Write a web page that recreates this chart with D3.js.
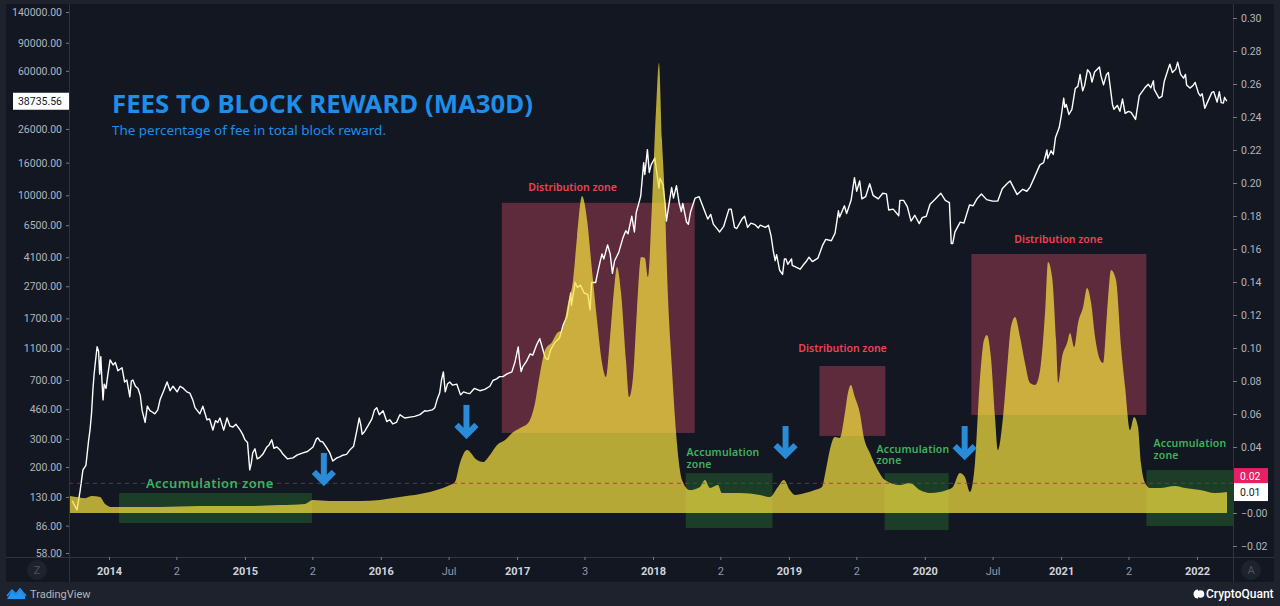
<!DOCTYPE html>
<html><head><meta charset="utf-8">
<script src="https://cdn.jsdelivr.net/npm/d3@7"></script>
<style>html,body{margin:0;padding:0;background:#1e222d;}svg{display:block}</style>
</head><body>
<svg id="c" width="1280" height="606"></svg>
<script>
// ---------------- DATA ----------------
const priceData = [
["2013-09-24",123],["2013-10-07",108],["2013-10-15",140],["2013-10-23",192],["2013-10-31",205],["2013-11-07",290],["2013-11-11",340],["2013-11-15",430],["2013-11-19",620],["2013-11-22",760],["2013-11-26",930],["2013-11-30",1130],["2013-12-04",1060],["2013-12-07",760],["2013-12-10",980],["2013-12-13",700],["2013-12-16",526],["2013-12-19",660],["2013-12-24",620],["2013-12-29",760],
["2014-01-04",935],["2014-01-12",870],["2014-01-18",900],["2014-01-25",800],["2014-02-05",835],["2014-02-12",680],["2014-02-18",700],["2014-02-26",550],["2014-03-02",690],["2014-03-06",700],["2014-03-13",640],["2014-03-20",620],["2014-03-26",560],["2014-03-31",450],["2014-04-08",380],["2014-04-14",480],["2014-04-21",450],["2014-04-28",440],["2014-05-04",430],["2014-05-12",455],["2014-05-18",526],["2014-05-28",600],["2014-06-06",680],["2014-06-14",600],["2014-06-22",640],["2014-07-03",590],["2014-07-11",640],["2014-07-20",620],["2014-07-29",590],["2014-08-06",580],["2014-08-14",526],["2014-08-20",470],["2014-09-02",430],["2014-09-10",480],["2014-09-21",395],["2014-09-28",400],["2014-10-07",341],["2014-10-14",390],["2014-10-20",380],["2014-10-26",405],["2014-11-05",340],["2014-11-14",405],["2014-11-22",360],["2014-11-30",356],["2014-12-08",370],["2014-12-19",341],["2014-12-26",320],
["2015-01-01",296],["2015-01-08",285],["2015-01-14",192],["2015-01-18",210],["2015-01-22",245],["2015-01-28",260],["2015-02-03",225],["2015-02-10",230],["2015-02-18",240],["2015-03-01",267],["2015-03-07",275],["2015-03-14",296],["2015-03-20",262],["2015-03-28",267],["2015-04-06",255],["2015-04-13",241],["2015-04-25",225],["2015-05-10",228],["2015-05-22",238],["2015-06-06",245],["2015-06-18",250],["2015-07-03",267],["2015-07-12",300],["2015-07-16",304],["2015-07-22",290],["2015-07-29",287],["2015-08-08",265],["2015-08-17",245],["2015-08-25",218],["2015-09-05",228],["2015-09-14",232],["2015-09-21",237],["2015-10-01",240],["2015-10-10",256],["2015-10-20",270],["2015-10-29",341],["2015-11-04",405],["2015-11-08",370],["2015-11-12",320],["2015-11-19",335],["2015-11-27",360],["2015-12-08",400],["2015-12-15",455],["2015-12-21",469],["2015-12-28",425],
["2016-01-07",450],["2016-01-17",385],["2016-01-25",395],["2016-02-02",372],["2016-02-12",380],["2016-02-21",425],["2016-03-05",405],["2016-03-19",410],["2016-04-01",415],["2016-04-15",425],["2016-04-28",450],["2016-05-04",447],["2016-05-18",455],["2016-05-25",470],["2016-06-01",535],["2016-06-07",580],["2016-06-12",700],["2016-06-17",787],["2016-06-22",590],["2016-06-28",660],["2016-07-04",680],["2016-07-12",650],["2016-07-23",660],["2016-08-02",565],["2016-08-10",590],["2016-08-20",580],["2016-08-27",575],["2016-09-08",620],["2016-09-23",600],["2016-10-06",612],["2016-10-20",640],["2016-10-28",695],["2016-11-07",712],["2016-11-15",735],["2016-11-24",735],["2016-12-05",765],["2016-12-18",787],["2016-12-26",900],
["2017-01-04",1127],["2017-01-08",910],["2017-01-12",790],["2017-01-16",845],["2017-01-26",915],["2017-02-05",1020],["2017-02-12",1000],["2017-02-23",1170],["2017-03-03",1270],["2017-03-10",1110],["2017-03-18",960],["2017-03-25",940],["2017-04-01",1080],["2017-04-12",1200],["2017-04-25",1280],["2017-05-05",1550],["2017-05-15",1750],["2017-05-25",2450],["2017-05-27",2050],["2017-06-06",2850],["2017-06-12",2650],["2017-06-20",2750],["2017-06-30",2450],["2017-07-10",2400],["2017-07-16",1920],["2017-07-20",2850],["2017-07-31",2850],["2017-08-05",3250],["2017-08-12",3850],["2017-08-17",4300],["2017-08-22",4000],["2017-09-01",4900],["2017-09-08",4300],["2017-09-14",3250],["2017-09-20",3900],["2017-10-01",4400],["2017-10-12",5400],["2017-10-20",6000],["2017-10-26",5750],["2017-11-05",7400],["2017-11-12",5900],["2017-11-17",7800],["2017-11-26",9300],["2017-11-29",9900],["2017-12-07",16000],["2017-12-10",13500],["2017-12-17",19300],["2017-12-22",13900],["2017-12-27",15500],
["2018-01-06",17100],["2018-01-10",14500],["2018-01-17",11100],["2018-01-20",12800],["2018-01-28",11600],["2018-02-02",9000],["2018-02-06",6900],["2018-02-12",8500],["2018-02-20",11200],["2018-02-25",9600],["2018-03-05",11500],["2018-03-12",9000],["2018-03-18",7900],["2018-03-22",8900],["2018-04-01",6800],["2018-04-06",6600],["2018-04-12",7900],["2018-04-24",9600],["2018-05-05",9800],["2018-05-15",8500],["2018-05-28",7100],["2018-06-05",7600],["2018-06-12",6600],["2018-06-24",6100],["2018-06-29",5900],["2018-07-10",6400],["2018-07-24",8200],["2018-07-30",8200],["2018-08-08",6300],["2018-08-14",6200],["2018-08-28",7100],["2018-09-04",7400],["2018-09-12",6300],["2018-09-21",6700],["2018-10-02",6550],["2018-10-11",6250],["2018-10-16",6500],["2018-10-30",6300],["2018-11-07",6500],["2018-11-14",5600],["2018-11-20",4500],["2018-11-25",3900],["2018-11-29",4250],["2018-12-07",3400],["2018-12-15",3200],["2018-12-20",4000],["2018-12-24",4000],["2018-12-29",3700],
["2019-01-08",4000],["2019-01-10",3650],["2019-01-20",3550],["2019-01-31",3450],["2019-02-08",3650],["2019-02-18",3900],["2019-02-24",4100],["2019-03-05",3850],["2019-03-20",4050],["2019-04-02",4900],["2019-04-10",5300],["2019-04-25",5200],["2019-05-05",5800],["2019-05-14",8000],["2019-05-17",7300],["2019-05-30",8600],["2019-06-05",7700],["2019-06-17",9300],["2019-06-26",12900],["2019-07-02",10600],["2019-07-10",12300],["2019-07-16",9500],["2019-07-26",9800],["2019-08-06",11800],["2019-08-15",10000],["2019-08-29",9500],["2019-09-10",10300],["2019-09-20",10200],["2019-09-26",8100],["2019-10-08",8200],["2019-10-23",7450],["2019-10-26",9300],["2019-11-05",9300],["2019-11-15",8500],["2019-11-25",6900],["2019-12-05",7500],["2019-12-17",6650],["2019-12-25",7250],
["2020-01-05",7400],["2020-01-15",8800],["2020-01-28",9400],["2020-02-13",10300],["2020-02-25",9300],["2020-03-07",9000],["2020-03-12",5000],["2020-03-16",5000],["2020-03-22",5900],["2020-04-05",6800],["2020-04-15",6700],["2020-04-30",8700],["2020-05-10",8600],["2020-05-20",9500],["2020-06-01",10200],["2020-06-15",9400],["2020-07-01",9200],["2020-07-15",9200],["2020-07-27",11000],["2020-08-10",11900],["2020-08-17",12300],["2020-09-05",10100],["2020-09-20",10900],["2020-10-01",10600],["2020-10-10",11300],["2020-10-21",12900],["2020-11-05",15500],["2020-11-15",16000],["2020-11-24",19200],["2020-11-26",17000],["2020-12-05",19000],["2020-12-11",18000],["2020-12-17",23000],["2020-12-27",26500],
["2021-01-02",32000],["2021-01-08",40500],["2021-01-11",35500],["2021-01-15",37000],["2021-01-22",32000],["2021-01-30",34500],["2021-02-08",46500],["2021-02-15",48000],["2021-02-21",57000],["2021-02-28",45000],["2021-03-05",48500],["2021-03-13",61000],["2021-03-20",58000],["2021-03-25",51000],["2021-04-01",59000],["2021-04-14",63500],["2021-04-18",56000],["2021-04-25",49000],["2021-05-03",57000],["2021-05-08",58500],["2021-05-12",49500],["2021-05-19",37000],["2021-05-23",34500],["2021-06-01",36500],["2021-06-08",33500],["2021-06-15",40000],["2021-06-22",32500],["2021-07-01",33500],["2021-07-08",33000],["2021-07-20",29800],["2021-07-30",42000],["2021-08-14",47000],["2021-08-23",49500],["2021-08-30",47000],["2021-09-06",52000],["2021-09-08",46000],["2021-09-21",40500],["2021-09-29",41500],["2021-10-05",51500],["2021-10-15",61000],["2021-10-20",66000],["2021-10-27",58500],["2021-11-05",61500],["2021-11-10",68000],["2021-11-18",57000],["2021-11-26",54000],["2021-12-01",57000],["2021-12-04",49000],["2021-12-13",46800],["2021-12-22",48800],["2021-12-27",50800],
["2022-01-05",43500],["2022-01-10",41800],["2022-01-15",43100],["2022-01-22",35000],["2022-01-28",37700],["2022-02-10",44000],["2022-02-15",44500],["2022-02-24",38300],["2022-03-02",44400],["2022-03-07",38000],["2022-03-13",37800],["2022-03-16",41000],["2022-03-22",38735.56]
];
const lastPrice = 38735.56;

// fee to block reward (MA30D): [decimal year, ratio]
const feeData = [
[2013.713,0.0103],[2013.757,0.0097],[2013.824,0.0090],[2013.875,0.0103],[2013.934,0.0097],[2013.971,0.0055],[2014.022,0.0036],[2014.375,0.0036],[2014.669,0.0042],[2015.037,0.0042],[2015.257,0.0048],[2015.441,0.0055],[2015.500,0.0079],[2015.625,0.0073],[2015.846,0.0073],[2015.993,0.0079],[2016.140,0.0097],[2016.287,0.0115],[2016.434,0.0145],[2016.507,0.0170],[2016.544,0.0188],[2016.581,0.0303],[2016.632,0.0382],[2016.706,0.0321],[2016.750,0.0309],[2016.801,0.0352],[2016.853,0.0412],[2016.912,0.0442],[2016.963,0.0485],[2017.022,0.0515],[2017.081,0.0545],[2017.132,0.0667],[2017.169,0.0848],[2017.206,0.0988],[2017.257,0.1036],[2017.294,0.1091],[2017.331,0.1109],[2017.375,0.1273],[2017.412,0.1412],[2017.441,0.1673],[2017.478,0.1921],[2017.515,0.1776],[2017.551,0.1473],[2017.588,0.1170],[2017.625,0.0909],[2017.654,0.0824],[2017.684,0.1067],[2017.713,0.1352],[2017.735,0.1491],[2017.765,0.1333],[2017.801,0.0927],[2017.824,0.0703],[2017.853,0.0824],[2017.882,0.1230],[2017.912,0.1552],[2017.941,0.1545],[2017.963,0.1430],[2017.993,0.1879],[2018.022,0.2442],[2018.044,0.2727],[2018.066,0.2260],[2018.088,0.1900],[2018.103,0.1470],[2018.140,0.0867],[2018.176,0.0424],[2018.213,0.0200],[2018.272,0.0139],[2018.346,0.0158],[2018.382,0.0200],[2018.419,0.0152],[2018.478,0.0170],[2018.507,0.0121],[2018.640,0.0121],[2018.787,0.0109],[2018.860,0.0097],[2018.919,0.0158],[2018.963,0.0200],[2019.007,0.0139],[2019.044,0.0109],[2019.118,0.0121],[2019.191,0.0139],[2019.243,0.0158],[2019.272,0.0261],[2019.301,0.0382],[2019.338,0.0461],[2019.375,0.0455],[2019.412,0.0606],[2019.434,0.0727],[2019.456,0.0776],[2019.485,0.0703],[2019.522,0.0606],[2019.551,0.0461],[2019.596,0.0364],[2019.654,0.0261],[2019.706,0.0200],[2019.816,0.0170],[2019.890,0.0182],[2019.963,0.0139],[2020.037,0.0121],[2020.110,0.0127],[2020.162,0.0139],[2020.206,0.0158],[2020.257,0.0242],[2020.294,0.0218],[2020.331,0.0127],[2020.368,0.0303],[2020.404,0.0806],[2020.434,0.1048],[2020.456,0.1079],[2020.485,0.0945],[2020.515,0.0582],[2020.537,0.0382],[2020.574,0.0582],[2020.603,0.0867],[2020.632,0.1127],[2020.662,0.1188],[2020.699,0.1067],[2020.735,0.0909],[2020.772,0.0788],[2020.809,0.0776],[2020.846,0.0867],[2020.882,0.1212],[2020.904,0.1521],[2020.934,0.1430],[2020.963,0.1048],[2020.978,0.0788],[2021.007,0.0945],[2021.044,0.1030],[2021.066,0.1091],[2021.096,0.1006],[2021.125,0.1152],[2021.162,0.1248],[2021.191,0.1364],[2021.221,0.1273],[2021.250,0.1067],[2021.287,0.0927],[2021.309,0.0909],[2021.338,0.1212],[2021.368,0.1473],[2021.404,0.1412],[2021.441,0.1006],[2021.471,0.0764],[2021.507,0.0503],[2021.537,0.0582],[2021.566,0.0521],[2021.588,0.0303],[2021.618,0.0182],[2021.654,0.0152],[2021.728,0.0152],[2021.838,0.0164],[2021.912,0.0152],[2022.022,0.0139],[2022.132,0.0121],[2022.221,0.0127]
];
const feeThreshold = 0.018;

const priceTicks = [140000,90000,60000,26000,16000,10000,6500,4100,2700,1700,1100,700,460,300,200,130,86,58];
const feeTicks = [0.30,0.28,0.26,0.24,0.22,0.20,0.18,0.16,0.14,0.12,0.10,0.08,0.06,0.04,0.00,-0.02];
const timeTickDates = ["2014-01-01","2014-07-01","2015-01-01","2015-07-01","2016-01-01","2016-07-01","2017-01-01","2017-07-01","2018-01-01","2018-07-01","2019-01-01","2019-07-01","2020-01-01","2020-07-01","2021-01-01","2021-07-01","2022-01-01"];
const timeTickLabels = ["2014","2","2015","2","2016","Jul","2017","3","2018","2","2019","2","2020","Jul","2021","2","2022"];

const distZones = [
  {start:"2016-11-21", end:"2018-04-23", hi:0.188, lo:0.0485, label:"Distribution zone", lx:"2017-05-30", ly:0.195},
  {start:"2019-03-24", end:"2019-09-17", hi:0.0891, lo:0.0467, label:"Distribution zone", lx:"2019-05-25", ly:0.0976},
  {start:"2020-05-05", end:"2021-08-18", hi:0.157, lo:0.0594, label:"Distribution zone", lx:"2020-12-25", ly:0.1636}
];
const accZones = [
  {start:"2014-01-28", end:"2015-06-30", hi:0.0121, lo:-0.0061, lines:["Accumulation zone"], lx:"2014-09-29", ly:0.0152, anchor:"middle", big:true},
  {start:"2018-03-30", end:"2018-11-18", hi:0.0242, lo:-0.0091, lines:["Accumulation","zone"], lx:"2018-04-01", ly:0.0345, anchor:"start"},
  {start:"2019-09-15", end:"2020-03-05", hi:0.0242, lo:-0.0103, lines:["Accumulation","zone"], lx:"2019-08-24", ly:0.0364, anchor:"start"},
  {start:"2021-08-18", end:"2022-04-10", hi:0.0260, lo:-0.0079, lines:["Accumulation","zone"], lx:"2021-09-06", ly:0.0400, anchor:"start"}
];
const arrows = [
  {date:"2015-08-01", top:0.0364, tip:0.0170},
  {date:"2016-08-18", top:0.0655, tip:0.0455},
  {date:"2018-12-23", top:0.0527, tip:0.0333},
  {date:"2020-04-17", top:0.0527, tip:0.0327}
];

// ---------------- CHART ----------------
const parse = d3.utcParse("%Y-%m-%d");
function decYear(y){const yr=Math.floor(y);const s=Date.UTC(yr,0,1),e=Date.UTC(yr+1,0,1);return new Date(s+(y-yr)*(e-s));}

const L=69, R=1233, T=4, B=557;
const x = d3.scaleUtc().domain([parse("2014-01-01"), parse("2022-01-01")]).range([109,1197]);
const yP = d3.scaleLog().domain([58,140000]).range([553,12]);
const yF = d3.scaleLinear().domain([-0.02,0.30]).range([546,18]);

const svg = d3.select("#c");
svg.append("rect").attr("width",1280).attr("height",606).attr("fill","#1e222d");
svg.append("rect").attr("x",6).attr("y",T).attr("width",1268).attr("height",582-T).attr("fill","#131722");

const defs = svg.append("defs");
defs.append("clipPath").attr("id","plot").append("rect").attr("x",L).attr("y",T).attr("width",R-L).attr("height",B-T);
const g = svg.append("g").attr("clip-path","url(#plot)");

// zones
g.selectAll("rect.acc").data(accZones).join("rect").attr("class","acc")
  .attr("x",d=>x(parse(d.start))).attr("width",d=>x(parse(d.end))-x(parse(d.start)))
  .attr("y",d=>yF(d.hi)).attr("height",d=>yF(d.lo)-yF(d.hi))
  .attr("fill","#2e8b2e").attr("fill-opacity",0.34);
g.selectAll("rect.dist").data(distZones).join("rect").attr("class","dist")
  .attr("x",d=>x(parse(d.start))).attr("width",d=>x(parse(d.end))-x(parse(d.start)))
  .attr("y",d=>yF(d.hi)).attr("height",d=>yF(d.lo)-yF(d.hi))
  .attr("fill","#e8506a").attr("fill-opacity",0.35);

// price line
const line = d3.line().x(d=>x(parse(d[0]))).y(d=>yP(d[1])).curve(d3.curveLinear);
g.append("path").datum(priceData).attr("d",line).attr("fill","none")
  .attr("stroke","#ffffff").attr("stroke-width",1.4).attr("stroke-linejoin","round");

// fee area
const area = d3.area().x(d=>x(decYear(d[0]))).y0(yF(0)).y1(d=>yF(d[1])).curve(d3.curveMonotoneX);
g.append("path").datum(feeData).attr("d",area).attr("fill","#f5e040").attr("fill-opacity",0.72);

// threshold dashed line
g.append("line").attr("x1",L).attr("x2",R).attr("y1",yF(feeThreshold)).attr("y2",yF(feeThreshold))
  .attr("stroke","#c2185b").attr("stroke-opacity",0.75).attr("stroke-width",1).attr("stroke-dasharray","4,4");

// zone labels
g.selectAll("text.dl").data(distZones).join("text").attr("class","dl")
  .attr("x",d=>x(parse(d.lx))).attr("y",d=>yF(d.ly)).attr("text-anchor","middle")
  .attr("font-family","'Noto Sans', sans-serif").attr("font-size",10.5).attr("font-weight",600)
  .attr("fill","#f0424f").text(d=>d.label);
accZones.forEach(z=>{
  const t = g.append("text").attr("x",x(parse(z.lx))).attr("y",yF(z.ly)).attr("text-anchor",z.anchor)
    .attr("font-family","'Noto Sans', sans-serif").attr("font-size",z.big?13:10.5).attr("font-weight",600)
    .attr("fill","#3db35a").attr("letter-spacing",z.big?0.4:0.2);
  z.lines.forEach((s,i)=>t.append("tspan").attr("x",x(parse(z.lx))).attr("dy",i?11.5:0).text(s));
});

// arrows
arrows.forEach(a=>{
  const cx=x(parse(a.date)), yt=yF(a.top), yb=yF(a.tip);
  g.append("line").attr("x1",cx).attr("x2",cx).attr("y1",yt).attr("y2",yb-5)
    .attr("stroke","#2a8bd8").attr("stroke-width",6);
  g.append("path").attr("d",`M${cx-10},${yb-13} L${cx},${yb-3} L${cx+10},${yb-13}`)
    .attr("fill","none").attr("stroke","#2a8bd8").attr("stroke-width",6).attr("stroke-linejoin","miter");
});

// title
svg.append("text").attr("x",112).attr("y",113).attr("font-family","'Noto Sans', sans-serif")
  .attr("font-size",25).attr("font-weight",700).attr("fill","#1e8ee8")
  .attr("textLength",421).attr("lengthAdjust","spacingAndGlyphs").text("FEES TO BLOCK REWARD (MA30D)");
svg.append("text").attr("x",112).attr("y",135).attr("font-family","'Noto Sans', sans-serif")
  .attr("font-size",12.5).attr("fill","#1e8ee8")
  .attr("textLength",274).attr("lengthAdjust","spacingAndGlyphs").text("The percentage of fee in total block reward.");

// axes lines
const axisColor="#2f333e";
svg.append("line").attr("x1",L+0.5).attr("x2",L+0.5).attr("y1",T).attr("y2",582).attr("stroke",axisColor);
svg.append("line").attr("x1",R+0.5).attr("x2",R+0.5).attr("y1",T).attr("y2",582).attr("stroke",axisColor);
svg.append("line").attr("x1",6).attr("x2",1274).attr("y1",B+0.5).attr("y2",B+0.5).attr("stroke",axisColor);

// left axis
const leftAxis = d3.axisLeft(yP).tickValues(priceTicks).tickFormat(d3.format(".2f")).tickSize(3).tickPadding(4);
const gl = svg.append("g").attr("transform",`translate(${L},0)`).call(leftAxis);
gl.select(".domain").remove();
gl.selectAll("line").attr("stroke","#787b86");
gl.selectAll("text").attr("fill","#b2b5be").attr("font-family","Roboto, sans-serif").attr("font-size",10.5);
// current price box
const py = yP(lastPrice);
svg.append("rect").attr("x",13).attr("y",py-8.5).attr("width",L-13).attr("height",17).attr("fill","#ffffff");
svg.append("text").attr("x",L-7).attr("y",py+4).attr("text-anchor","end").attr("fill","#131722")
  .attr("font-family","Roboto, sans-serif").attr("font-size",10.5).text(d3.format(".2f")(lastPrice));

// right axis
const fmtF = v => (v<=0?"\u2212":"")+Math.abs(v).toFixed(2);
const rightAxis = d3.axisRight(yF).tickValues(feeTicks).tickFormat(fmtF).tickSize(4).tickPadding(4);
const gr = svg.append("g").attr("transform",`translate(${R},0)`).call(rightAxis);
gr.select(".domain").remove();
gr.selectAll("line").attr("stroke","#787b86");
gr.selectAll("text").attr("fill","#b2b5be").attr("font-family","Roboto, sans-serif").attr("font-size",10.5);
// last value + threshold labels
const lastFee = feeData[feeData.length-1][1];
const ly = yF(lastFee);
svg.append("rect").attr("x",R+1).attr("y",ly-9).attr("width",34).attr("height",18).attr("fill","#ffffff");
svg.append("text").attr("x",R+7).attr("y",ly+4).attr("fill","#131722").attr("font-family","Roboto, sans-serif").attr("font-size",10.5).text(fmtF(lastFee));
svg.append("rect").attr("x",R+1).attr("y",ly-9-15).attr("width",34).attr("height",15).attr("fill","#e91e63");
svg.append("text").attr("x",R+7).attr("y",ly-9-3.5).attr("fill","#ffffff").attr("font-family","Roboto, sans-serif").attr("font-size",10.5).text(fmtF(feeThreshold));

// bottom axis
const bottomAxis = d3.axisBottom(x).tickValues(timeTickDates.map(parse)).tickFormat((d,i)=>timeTickLabels[i]).tickSize(3).tickPadding(7);
const gb = svg.append("g").attr("transform",`translate(0,${B})`).call(bottomAxis);
gb.select(".domain").remove();
gb.selectAll("line").attr("stroke","#787b86");
gb.selectAll("text").attr("font-family","Roboto, sans-serif").attr("font-size",11)
  .attr("fill",(d,i)=>/^\d{4}$/.test(timeTickLabels[i])?"#d1d4dc":"#9598a1")
  .attr("font-weight",(d,i)=>/^\d{4}$/.test(timeTickLabels[i])?700:400);

// corner buttons
[[37,"Z"],[1251,"A"]].forEach(([cx,t])=>{
  svg.append("circle").attr("cx",cx).attr("cy",570).attr("r",10).attr("fill","#1e222d");
  svg.append("text").attr("x",cx).attr("y",574).attr("text-anchor","middle").attr("fill","#50535e")
    .attr("font-family","Roboto, sans-serif").attr("font-size",11).text(t);
});

// footer logos
svg.append("path").attr("d","M7,599 L12,591 L16,595 L20,590 L25,596 L25,599 Z").attr("fill","#2196f3");
svg.append("path").attr("d","M7,596 L12,590 L16,594 L20,589 L26,596").attr("fill","none").attr("stroke","#2196f3").attr("stroke-width",1.5);
svg.append("text").attr("x",30).attr("y",598).attr("fill","#b2b5be").attr("font-family","Roboto, sans-serif").attr("font-size",11).text("TradingView");
svg.append("path").attr("d","M1198,589.5 A4.5,4.5 0 1 0 1198,598.5 Z").attr("fill","#ffffff");
svg.append("circle").attr("cx",1200.5).attr("cy",594).attr("r",3.8).attr("fill","#ffffff");
svg.append("text").attr("x",1206).attr("y",598).attr("fill","#ffffff").attr("font-family","Roboto, sans-serif").attr("font-size",12).attr("font-weight",500).text("CryptoQuant");
</script>
</body></html>
